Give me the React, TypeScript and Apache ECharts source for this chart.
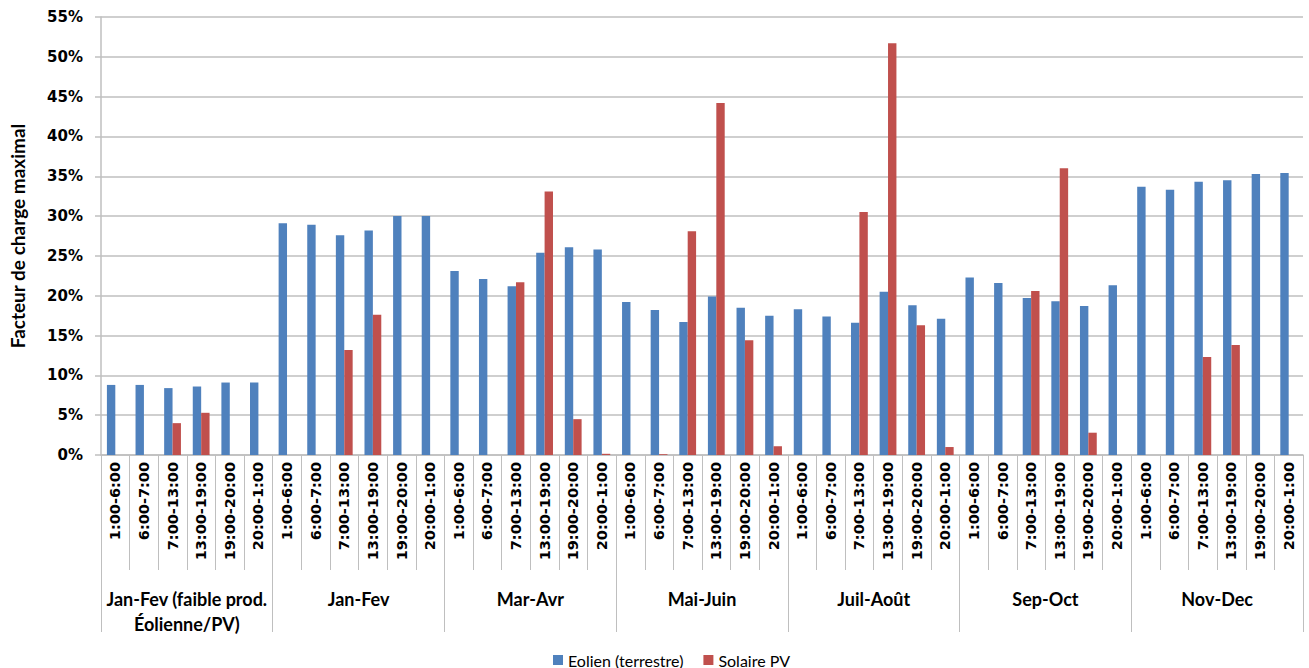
import React, { useEffect, useRef } from "react";
import * as echarts from "echarts";

const slots = ["1:00-6:00", "6:00-7:00", "7:00-13:00", "13:00-19:00", "19:00-20:00", "20:00-1:00"];
const groups = [
  "Jan-Fev (faible prod.\nÉolienne/PV)",
  "Jan-Fev",
  "Mar-Avr",
  "Mai-Juin",
  "Juil-Août",
  "Sep-Oct",
  "Nov-Dec",
];
const eolien = [
  8.8, 8.8, 8.4, 8.6, 9.1, 9.1,
  29.1, 28.9, 27.6, 28.2, 30.0, 30.0,
  23.1, 22.1, 21.2, 25.4, 26.1, 25.8,
  19.2, 18.2, 16.7, 19.9, 18.5, 17.5,
  18.3, 17.4, 16.6, 20.5, 18.8, 17.1,
  22.3, 21.6, 19.7, 19.3, 18.7, 21.3,
  33.7, 33.3, 34.3, 34.5, 35.3, 35.4,
];
const solaire = [
  0, 0, 4.0, 5.3, 0, 0,
  0, 0, 13.2, 17.6, 0, 0,
  0, 0, 21.7, 33.1, 4.5, 0.15,
  0, 0.1, 28.1, 44.2, 14.4, 1.1,
  0, 0, 30.5, 51.7, 16.3, 1.0,
  0, 0, 20.6, 36.0, 2.8, 0,
  0, 0, 12.3, 13.8, 0, 0,
];
const seriesNames = ["Eolien (terrestre)", "Solaire PV"];
const yTicks = { min: 0, max: 55, interval: 5 };

const categories: string[] = [];
groups.forEach(() => slots.forEach((s) => categories.push(s)));

export default function App() {
  const ref = useRef<HTMLDivElement>(null);
  useEffect(() => {
    if (!ref.current) return;
    const chart = echarts.init(ref.current, null, { renderer: "svg" });
    const gridColor = "#BFBFBF";
    chart.setOption({
      animation: false,
      backgroundColor: "#ffffff",
      grid: { left: 101, right: 6, top: 17, bottom: 213, containLabel: false },
      legend: {
        data: seriesNames,
        left: 548,
        top: 646,
        icon: "rect",
        itemWidth: 10,
        itemHeight: 10,
        itemGap: 20,
        textStyle: { fontFamily: "Lato", fontSize: 16, color: "#000", lineHeight: 18 },
      },
      xAxis: [
        {
          type: "category",
          data: categories,
          position: "bottom",
          axisLine: { show: true, lineStyle: { color: gridColor, width: 1.5 } },
          axisTick: { show: true, interval: 0, length: 115, lineStyle: { color: gridColor, width: 1 } },
          axisLabel: {
            interval: 0,
            rotate: 90,
            margin: 7,
            fontFamily: "DejaVu Sans",
            fontWeight: "bold",
            fontSize: 14.5,
            color: "#000",
          },
        },
        {
          type: "category",
          data: groups,
          position: "bottom",
          axisLine: { show: false },
          axisTick: { show: true, interval: 0, length: 177, lineStyle: { color: gridColor, width: 1 } },
          axisLabel: {
            interval: 0,
            margin: 131,
            fontFamily: "Lato",
            fontWeight: "bold",
            fontSize: 18,
            lineHeight: 25,
            color: "#000",
            verticalAlign: "top",
          },
        },
      ],
      yAxis: {
        type: "value",
        min: yTicks.min,
        max: yTicks.max,
        interval: yTicks.interval,
        name: "Facteur de charge maximal",
        nameLocation: "middle",
        nameGap: 74,
        nameRotate: 90,
        nameTextStyle: { fontFamily: "Lato", fontWeight: "bold", fontSize: 19, color: "#000" },
        axisLine: { show: true, lineStyle: { color: gridColor, width: 1.5 } },
        axisTick: { show: true, length: 6, lineStyle: { color: gridColor, width: 1.5 } },
        splitLine: { show: true, lineStyle: { color: gridColor, width: 1.5 } },
        axisLabel: {
          formatter: "{value}%",
          margin: 18,
          fontFamily: "DejaVu Sans",
          fontWeight: "bold",
          fontSize: 15,
          color: "#000",
        },
      },
      series: [
        {
          name: seriesNames[0],
          type: "bar",
          data: eolien,
          barWidth: 8.4,
          barGap: "0%",
          itemStyle: { color: "#4F81BD" },
        },
        {
          name: seriesNames[1],
          type: "bar",
          data: solaire,
          barWidth: 8.4,
          barGap: "0%",
          itemStyle: { color: "#C0504D" },
        },
      ],
    });
    return () => chart.dispose();
  }, []);
  return (
    <div
      ref={ref}
      style={{ position: "fixed", left: 0, top: 0, width: 1309, height: 668 }}
    />
  );
}
